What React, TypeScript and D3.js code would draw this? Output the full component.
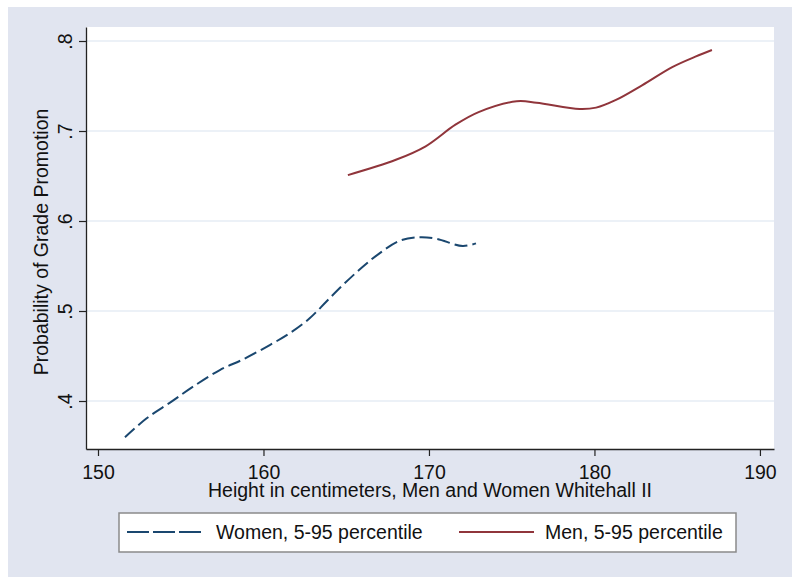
import React, { useRef, useEffect } from 'react';
import * as d3 from 'd3';

const womenHeight = [151.63, 152.94, 154.44, 155.75, 157.36, 158.77, 160.38, 161.58, 162.79, 163.79, 164.8, 166.0, 167.01, 168.22, 169.43, 170.43, 172.04, 172.84];
const womenProb = [0.3597, 0.3808, 0.3993, 0.416, 0.4344, 0.4463, 0.4622, 0.4752, 0.4919, 0.5103, 0.5289, 0.5492, 0.5641, 0.578, 0.5819, 0.5803, 0.5722, 0.5752];

const menHeight = [165.1, 168.0, 169.8, 171.6, 173.0, 175.3, 176.5, 179.1, 180.1, 181.3, 182.9, 184.7, 186.1, 187.1];
const menProb = [0.651, 0.668, 0.683, 0.707, 0.721, 0.733, 0.7315, 0.7245, 0.726, 0.7345, 0.751, 0.771, 0.7826, 0.79];

const xTicks = [150, 160, 170, 180, 190];
const yTicks = [0.4, 0.5, 0.6, 0.7, 0.8];
const yTickLabels = ['.4', '.5', '.6', '.7', '.8'];

const seriesNames = ['Women, 5-95 percentile', 'Men, 5-95 percentile'];

const W = 800;
const H = 586;
const FONT = '"Liberation Sans", Arial, sans-serif';
const NAVY = '#1a476f';
const MAROON = '#90353b';

const App: React.FC = () => {
  const svgRef = useRef<SVGSVGElement>(null);

  useEffect(() => {
    if (!svgRef.current) return;
    const svg = d3.select(svgRef.current);
    svg.selectAll('*').remove();

    const plot = { left: 86, right: 774, top: 27, bottom: 449 };

    const x = d3.scaleLinear().domain([149.275, 190.85]).range([plot.left, plot.right]);
    const y = d3.scaleLinear().domain([0.34667, 0.81556]).range([plot.bottom, plot.top]);

    // outer graph region
    svg.append('rect')
      .attr('x', 8).attr('y', 7)
      .attr('width', 784).attr('height', 570)
      .attr('fill', '#e1e5f0');

    // plot region
    svg.append('rect')
      .attr('x', plot.left).attr('y', plot.top)
      .attr('width', plot.right - plot.left).attr('height', plot.bottom - plot.top)
      .attr('fill', '#ffffff');

    // gridlines
    svg.append('g')
      .selectAll('line')
      .data(yTicks)
      .join('line')
        .attr('x1', plot.left).attr('x2', plot.right)
        .attr('y1', d => y(d)).attr('y2', d => y(d))
        .attr('stroke', '#e6ecf4')
        .attr('stroke-width', 1.5);

    // lines
    const women = womenHeight.map((h, i) => [h, womenProb[i]] as [number, number]);
    const men = menHeight.map((h, i) => [h, menProb[i]] as [number, number]);

    const line = d3.line<[number, number]>()
      .x(d => x(d[0]))
      .y(d => y(d[1]))
      .curve(d3.curveCatmullRom.alpha(0.5));

    svg.append('path')
      .datum(women)
      .attr('d', line)
      .attr('fill', 'none')
      .attr('stroke', NAVY)
      .attr('stroke-width', 2)
      .attr('stroke-dasharray', '13,5');

    svg.append('path')
      .datum(men)
      .attr('d', line)
      .attr('fill', 'none')
      .attr('stroke', MAROON)
      .attr('stroke-width', 2);

    // x axis
    const xAxis = svg.append('g')
      .attr('transform', `translate(0,${plot.bottom})`)
      .call(d3.axisBottom(x).tickValues(xTicks).tickSize(7).tickSizeOuter(0).tickFormat(d3.format('d')));
    xAxis.select('.domain').attr('stroke', '#222').attr('stroke-width', 1.3);
    xAxis.selectAll('.tick line').attr('stroke', '#222').attr('stroke-width', 1.2);
    xAxis.selectAll('.tick text')
      .attr('y', 30).attr('dy', 0)
      .attr('fill', '#111')
      .style('font-family', FONT)
      .style('font-size', '19.5px');

    // y axis
    const yAxis = svg.append('g')
      .attr('transform', `translate(${plot.left},0)`)
      .call(d3.axisLeft(y).tickValues(yTicks).tickSize(7).tickSizeOuter(0)
        .tickFormat((d, i) => yTickLabels[i]));
    yAxis.select('.domain').attr('stroke', '#222').attr('stroke-width', 1.3);
    yAxis.selectAll('.tick line').attr('stroke', '#222').attr('stroke-width', 1.2);
    yAxis.selectAll('.tick text')
      .attr('transform', 'rotate(-90)')
      .attr('x', 0).attr('y', -14).attr('dy', 0)
      .attr('text-anchor', 'middle')
      .attr('fill', '#111')
      .style('font-family', FONT)
      .style('font-size', '19.5px');

    // axis titles
    svg.append('text')
      .attr('x', (plot.left + plot.right) / 2)
      .attr('y', 497)
      .attr('text-anchor', 'middle')
      .attr('fill', '#111')
      .style('font-family', FONT)
      .style('font-size', '19.5px')
      .text('Height in centimeters, Men and Women Whitehall II');

    svg.append('text')
      .attr('transform', `translate(48,${(plot.top + plot.bottom) / 2 + 4}) rotate(-90)`)
      .attr('text-anchor', 'middle')
      .attr('fill', '#111')
      .style('font-family', FONT)
      .style('font-size', '19.5px')
      .text('Probability of Grade Promotion');

    // legend
    const legend = svg.append('g');
    legend.append('rect')
      .attr('x', 119).attr('y', 513)
      .attr('width', 617).attr('height', 39)
      .attr('fill', '#ffffff')
      .attr('stroke', '#8a8a8a')
      .attr('stroke-width', 1.5);

    const items = [
      { name: seriesNames[0], color: NAVY, dash: '22,4', x0: 127, x1: 204, tx: 216 },
      { name: seriesNames[1], color: MAROON, dash: null, x0: 459, x1: 534, tx: 545 },
    ];
    items.forEach(it => {
      legend.append('line')
        .attr('x1', it.x0).attr('x2', it.x1)
        .attr('y1', 532).attr('y2', 532)
        .attr('stroke', it.color)
        .attr('stroke-width', 2)
        .attr('stroke-dasharray', it.dash);
      legend.append('text')
        .attr('x', it.tx).attr('y', 539)
        .attr('fill', '#111')
        .style('font-family', FONT)
        .style('font-size', '19.5px')
        .text(it.name);
    });
  }, []);

  return (
    <svg ref={svgRef} width={W} height={H}
      style={{ position: 'absolute', left: 0, top: 0, background: '#ffffff' }} />
  );
};

export default App;
